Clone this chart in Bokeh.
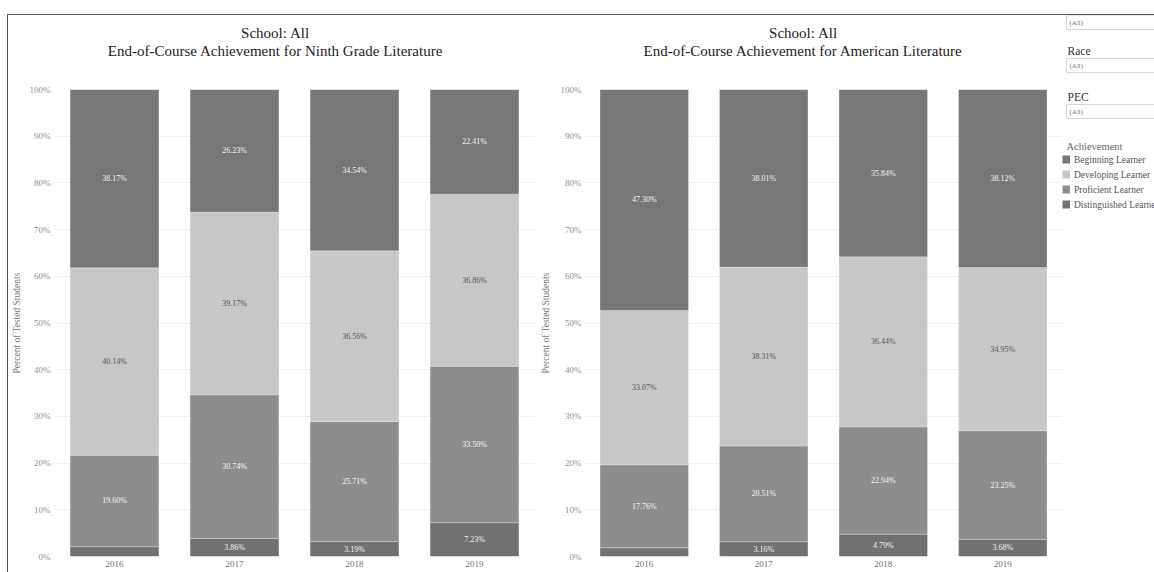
from bokeh.plotting import figure
from bokeh.models import ColumnDataSource, Range1d, FactorRange, Div
from bokeh.layouts import row, column
from bokeh.embed import file_html
from bokeh.resources import INLINE
from bokeh.core.properties import value

# ---------------- data ----------------
years = ["2016", "2017", "2018", "2019"]
stack_levels = ["Distinguished Learner", "Proficient Learner", "Developing Learner", "Beginning Learner"]
legend_levels = ["Beginning Learner", "Developing Learner", "Proficient Learner", "Distinguished Learner"]

ninth_distinguished = [2.09, 3.86, 3.19, 7.23]
ninth_proficient = [19.60, 30.74, 25.71, 33.50]
ninth_developing = [40.14, 39.17, 36.56, 36.86]
ninth_beginning = [38.17, 26.23, 34.54, 22.41]

amer_distinguished = [1.87, 3.16, 4.79, 3.68]
amer_proficient = [17.76, 20.51, 22.94, 23.25]
amer_developing = [33.07, 38.31, 36.44, 34.95]
amer_beginning = [47.30, 38.01, 35.84, 38.12]

y_ticks = [0, 10, 20, 30, 40, 50, 60, 70, 80, 90, 100]
filter_names = ["", "Race", "PEC"]
filter_value = "(All)"
legend_title = "Achievement"
school_title = "School: All"
course_titles = ["End-of-Course Achievement for Ninth Grade Literature",
                 "End-of-Course Achievement for American Literature"]

# ---------------- style ----------------
COLORS = {
    "Beginning Learner": "#777777",
    "Developing Learner": "#c7c7c7",
    "Proficient Learner": "#8d8d8d",
    "Distinguished Learner": "#717171",
}
LABEL_COLORS = {
    "Beginning Learner": "#f4f4f4",
    "Developing Learner": "#555555",
    "Proficient Learner": "#f4f4f4",
    "Distinguished Learner": "#f4f4f4",
}
SERIF = "Liberation Serif"
TOP_H = 64      # page y 15 .. 79
CHART_H = 493   # page y 79 .. 572


def blank(width, height, xr, yr, **kw):
    f = figure(width=width, height=height, x_range=Range1d(*xr), y_range=Range1d(*yr),
               output_backend="svg", toolbar_location=None, **kw)
    f.axis.visible = False
    f.grid.grid_line_color = None
    f.outline_line_color = None
    f.border_fill_color = "white"
    return f


def make_title(width, mb_left, mb_right, frame_x, center_x, course_title):
    t = blank(width, TOP_H, frame_x, (79, 15), min_border_left=mb_left,
              min_border_right=mb_right, min_border_top=0, min_border_bottom=0)
    t.text(x=[center_x, center_x], y=[32, 50], text=[school_title, course_title],
           text_font=value(SERIF), text_font_size="15px", text_color="#222222",
           text_align="center", text_baseline="middle")
    return t


def make_chart(dist, prof, dev, beg, width, mb_left, mb_right,
               label_standoff, tick_standoff):
    p = figure(x_range=FactorRange(factors=years, range_padding=0),
               y_range=Range1d(0, 100),
               width=width, height=CHART_H,
               min_border_left=mb_left, min_border_right=mb_right,
               min_border_top=10, min_border_bottom=16,
               output_backend="svg", toolbar_location=None)
    cols = {"Distinguished Learner": dist, "Proficient Learner": prof,
            "Developing Learner": dev, "Beginning Learner": beg}
    data = {"year": years}
    for lv in stack_levels:
        data[lv] = cols[lv]
    src = ColumnDataSource(data)
    p.vbar_stack(stack_levels, x="year", width=0.74, source=src,
                 color=[COLORS[lv] for lv in stack_levels],
                 line_color="white", line_alpha=0.3, line_width=0.8)

    # segment labels
    lx, ly, lt, lc = [], [], [], []
    for i, yr in enumerate(years):
        base = 0.0
        for lv in stack_levels:
            v = cols[lv][i]
            if v >= 2.5:
                lx.append(yr)
                ly.append(base + v / 2.0)
                lt.append(f"{v:.2f}%")
                lc.append(LABEL_COLORS[lv])
            base += v
    p.text(x="x", y="y", text="t", text_color="c",
           source=ColumnDataSource(dict(x=lx, y=ly, t=lt, c=lc)),
           text_font=value(SERIF), text_font_size="8px",
           text_align="center", text_baseline="middle")

    # axes
    p.yaxis.ticker = y_ticks
    p.yaxis.major_label_overrides = {t: f"{t}%" for t in y_ticks}
    p.yaxis.axis_label = "Percent of Tested Students"
    p.yaxis.axis_label_text_font = SERIF
    p.yaxis.axis_label_text_font_size = "9.5px"
    p.yaxis.axis_label_text_font_style = "normal"
    p.yaxis.axis_label_text_color = "#7a7a7a"
    p.yaxis.axis_label_standoff = label_standoff
    for ax in (p.xaxis, p.yaxis):
        ax.axis_line_color = None
        ax.major_tick_line_color = None
        ax.minor_tick_line_color = None
        ax.major_tick_out = 0
        ax.major_tick_in = 0
        ax.major_label_text_font = SERIF
        ax.major_label_text_color = "#909090"
    p.yaxis.major_label_text_font_size = "9px"
    p.yaxis.major_label_standoff = tick_standoff
    p.xaxis.major_label_text_font_size = "9px"
    p.xaxis.major_label_text_color = "#707070"
    p.xaxis.major_label_standoff = 4

    p.xgrid.grid_line_color = None
    p.ygrid.grid_line_color = "#f0f0f0"
    p.outline_line_color = None
    p.border_fill_color = "white"
    return p


# ---------------- title strips ----------------
t1 = make_title(529, 45, 3, (53, 534), 275, course_titles[0])
t2 = make_title(525, 43, 0, (580, 1062), 803, course_titles[1])

# ---------------- charts ----------------
p1 = make_chart(ninth_distinguished, ninth_proficient, ninth_developing,
                ninth_beginning, 529, 45, 3, 5, 4)
p2 = make_chart(amer_distinguished, amer_proficient, amer_developing,
                amer_beginning, 525, 43, 0, 7, 3)

# ---------------- filter / legend panel (page pixel coordinates) ----------------
t3 = blank(92, TOP_H, (1062, 1154), (79, 15), min_border=0)
p3 = blank(92, CHART_H, (1062, 1154), (556, 89), min_border_left=0, min_border_right=0,
           min_border_top=10, min_border_bottom=16)

box_tops = [15, 58, 104]
head_y = [None, 50, 96]
for name, top, hy in zip(filter_names, box_tops, head_y):
    f = t3 if top < 79 else p3
    f.quad(left=1066, right=1170, top=top, bottom=top + 14, fill_color="white",
           line_color="#d6d6d6", line_width=1)
    f.text(x=[1069], y=[top + 7], text=[filter_value], text_font=value(SERIF),
           text_font_size="7px", text_color="#777777", text_baseline="middle")
    if name:
        f.text(x=[1067], y=[hy], text=[name], text_font=value(SERIF),
               text_font_size="11.5px", text_color="#333333",
               text_baseline="middle")

p3.text(x=[1066], y=[146], text=[legend_title], text_font=value(SERIF),
        text_font_size="10.5px", text_color="#666666", text_baseline="middle")
leg_y = [159 + 15 * i for i in range(len(legend_levels))]
p3.rect(x=[1065.5] * len(legend_levels), y=leg_y, width=8, height=8,
        fill_color=[COLORS[lv] for lv in legend_levels], line_color=None)
p3.text(x=[1073.5] * len(legend_levels), y=leg_y, text=legend_levels,
        text_font=value(SERIF), text_font_size="9.5px", text_color="#555555",
        text_baseline="middle")

# ---------------- page frame lines ----------------
top_line = Div(text="", width=1147, height=1, margin=(14, 0, 0, 7),
               styles={"background-color": "#555555"})
left_pad = Div(text="", width=7, height=557, margin=0)
left_line = Div(text="", width=1, height=557, margin=0,
                styles={"background-color": "#555555"})

body = column(row(t1, t2, t3, spacing=0), row(p1, p2, p3, spacing=0), spacing=0)
layout = column(top_line, row(left_pad, left_line, body, spacing=0), spacing=0)

open("out.html", "w").write(file_html(layout, INLINE))
